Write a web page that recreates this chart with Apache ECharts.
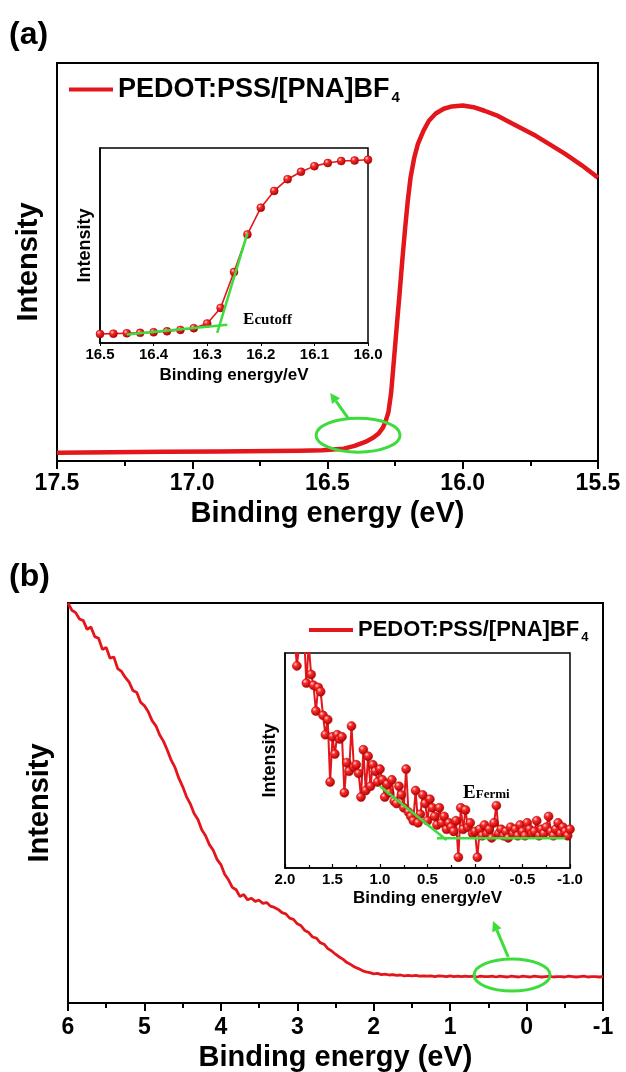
<!DOCTYPE html>
<html>
<head>
<meta charset="utf-8">
<script src="https://cdn.jsdelivr.net/npm/echarts@6/dist/echarts.min.js"></script>
<style>html,body{margin:0;padding:0;background:#fff}#c{width:626px;height:1072px}</style>
</head>
<body>
<div id="c"></div>
<script>
// ---------------- DATA ----------------
const seriesName = 'PEDOT:PSS/[PNA]BF4';

// Panel (a) main spectrum (secondary-electron cutoff)
const energyA = [17.5, 17.3, 17.1, 16.9, 16.7, 16.6, 16.52, 16.48, 16.44, 16.4, 16.36, 16.33, 16.31, 16.295, 16.285, 16.275, 16.265, 16.255, 16.245, 16.234, 16.224, 16.213, 16.203, 16.193, 16.18, 16.166, 16.145, 16.125, 16.1, 16.07, 16.04, 16.0, 15.96, 15.92, 15.87, 15.826, 15.78, 15.73, 15.68, 15.62, 15.56, 15.5];
const intensityA = [2.1, 2.2, 2.3, 2.4, 2.5, 2.6, 2.7, 2.9, 3.1, 3.8, 4.8, 5.9, 7.0, 8.4, 10.0, 12.2, 17.0, 24.9, 33.0, 41.7, 50.0, 58.5, 65.5, 71.2, 76.0, 79.6, 83.0, 85.5, 87.3, 88.5, 89.1, 89.3, 88.9, 88.0, 86.7, 85.1, 83.5, 81.7, 79.6, 77.1, 74.3, 71.2];

// Panel (a) inset
const energyInsetA = [16.5, 16.475, 16.45, 16.425, 16.4, 16.375, 16.35, 16.325, 16.3, 16.275, 16.25, 16.225, 16.2, 16.175, 16.15, 16.125, 16.1, 16.075, 16.05, 16.025, 16.0];
const intensityInsetA = [4.6, 4.8, 5.0, 5.2, 5.5, 6.0, 6.7, 7.6, 10.0, 18.0, 36.4, 55.7, 69.4, 78.0, 84.0, 87.8, 90.7, 92.3, 93.3, 93.6, 94.0];
const tangentBaseA_E = [16.45, 16.2625];
const tangentBaseA_I = [4.3, 9.3];
const tangentEdgeA_E = [16.2813, 16.225];
const tangentEdgeA_I = [5.2, 56.2];

// Panel (b) main spectrum (valence band)
const energyB = [6.00,5.95,5.90,5.85,5.80,5.75,5.70,5.65,5.60,5.55,5.50,5.45,5.40,5.35,5.30,5.25,5.20,5.15,5.10,5.05,5.00,4.95,4.90,4.85,4.80,4.75,4.70,4.65,4.60,4.55,4.50,4.45,4.40,4.35,4.30,4.25,4.20,4.15,4.10,4.05,4.00,3.95,3.90,3.85,3.80,3.75,3.70,3.65,3.60,3.55,3.50,3.45,3.40,3.35,3.30,3.25,3.20,3.15,3.10,3.05,3.00,2.95,2.90,2.85,2.80,2.75,2.70,2.65,2.60,2.55,2.50,2.45,2.40,2.35,2.30,2.25,2.20,2.15,2.10,2.05,2.00,1.95,1.90,1.85,1.80,1.75,1.70,1.65,1.60,1.55,1.50,1.45,1.40,1.35,1.30,1.25,1.20,1.15,1.10,1.05,1.00,0.95,0.90,0.85,0.80,0.75,0.70,0.65,0.60,0.55,0.50,0.45,0.40,0.35,0.30,0.25,0.20,0.15,0.10,0.05,0.00,-0.05,-0.10,-0.15,-0.20,-0.25,-0.30,-0.35,-0.40,-0.45,-0.50,-0.55,-0.60,-0.65,-0.70,-0.75,-0.80,-0.85,-0.90,-0.95,-1.00];
const intensityB = [100.0,98.2,97.6,96.0,95.6,93.4,94.0,91.6,91.2,88.4,88.9,86.2,86.5,83.6,82.9,81.4,80.2,78.1,77.6,75.2,74.3,72.8,70.6,69.3,67.0,65.4,63.2,60.7,58.9,56.2,54.1,51.6,49.8,47.4,45.9,43.3,41.8,39.6,38.2,35.9,34.6,32.2,30.8,28.9,28.3,26.6,27.1,25.8,26.2,25.4,25.7,24.9,25.1,24.2,23.9,23.4,22.6,22.3,21.2,20.9,19.8,19.3,18.1,17.6,16.5,16.2,15.1,14.7,13.6,13.0,12.2,11.5,10.9,10.1,9.6,9.0,8.6,8.1,7.8,7.6,7.3,7.4,7.1,7.2,7.0,7.1,6.9,7.0,6.8,6.9,6.8,6.9,6.7,6.8,6.7,6.8,6.6,6.8,6.7,6.6,6.8,6.6,6.7,6.6,6.7,6.6,6.7,6.5,6.7,6.6,6.6,6.7,6.5,6.7,6.6,6.5,6.7,6.6,6.5,6.7,6.6,6.5,6.7,6.6,6.5,6.6,6.7,6.5,6.6,6.6,6.5,6.7,6.6,6.5,6.6,6.7,6.5,6.6,6.6,6.5,6.6];

// Panel (b) inset
const energyInsetB = [1.900,1.875,1.850,1.825,1.800,1.775,1.750,1.725,1.700,1.675,1.650,1.625,1.600,1.575,1.550,1.525,1.500,1.475,1.450,1.425,1.400,1.375,1.350,1.325,1.300,1.275,1.250,1.225,1.200,1.175,1.150,1.125,1.100,1.075,1.050,1.025,1.000,0.975,0.950,0.925,0.900,0.875,0.850,0.825,0.800,0.775,0.750,0.725,0.700,0.675,0.650,0.625,0.600,0.575,0.550,0.525,0.500,0.475,0.450,0.425,0.400,0.375,0.350,0.325,0.300,0.275,0.250,0.225,0.200,0.175,0.150,0.125,0.100,0.075,0.050,0.025,0.000,-0.025,-0.050,-0.075,-0.100,-0.125,-0.150,-0.175,-0.200,-0.225,-0.250,-0.275,-0.300,-0.325,-0.350,-0.375,-0.400,-0.425,-0.450,-0.475,-0.500,-0.525,-0.550,-0.575,-0.600,-0.625,-0.650,-0.675,-0.700,-0.725,-0.750,-0.775,-0.800,-0.825,-0.850,-0.875,-0.900,-0.925,-0.950,-0.975,-1.000];
const intensityInsetB = [108,94,104,112,109,86,104,90,85,73,84,82,71,62,69,40,61,53,62,60,61,35,49,45,66,47,48,44,33,55,36,52,38,48,45,40,46,41,33,39,35,41,31,30,38,34,28,46,26,24,22,36,21,25,34,30,22,32,28,24,20,28,21,24,18,21,19,17,22,5,28,18,27,19,21,16,17,5,18,15,20,16,18,14,21,29,16,18,15,17,14,19,16,18,15,20,17,15,21,18,16,17,22,15,18,16,19,24,17,15,18,21,16,19,17,15,18];
const tangentSlopeB_E = [1.0, 0.3];
const tangentSlopeB_I = [38, 13];
const tangentFlatB_E = [0.4, -0.95];
const tangentFlatB_I = [13.8, 13.8];

// Axis tick settings
const ticksA = { min: 15.5, max: 17.5, interval: 0.5 };
const ticksInsetA = { min: 16.0, max: 16.5, interval: 0.1 };
const ticksB = { min: -1, max: 6, interval: 1 };
const ticksInsetB = { min: -1.0, max: 2.0, interval: 0.5 };

// ---------------- STYLE ----------------
const SANS = '"Liberation Sans", Arial, sans-serif';
const SERIF = '"Liberation Serif", "Times New Roman", serif';
const RED = '#e3161b';
const GREEN = '#3ddc3d';
const zip = (xs, ys) => xs.map((x, i) => [x, ys[i]]);

const ball = () => new echarts.graphic.RadialGradient(0.35, 0.32, 0.75, [
  { offset: 0, color: '#ffd6d6' },
  { offset: 0.3, color: '#ff2a2a' },
  { offset: 1, color: '#9a0000' }
]);

function xAxisCfg(grid, t, opt) {
  return Object.assign({
    gridIndex: grid, type: 'value', min: t.min, max: t.max, interval: t.interval, inverse: true,
    axisLine: { show: true, onZero: false, lineStyle: { color: '#000', width: 2 } },
    axisTick: { show: true, inside: false, length: 8, lineStyle: { color: '#000', width: 2 } },
    splitLine: { show: false },
    axisLabel: { color: '#000', fontFamily: SANS, fontWeight: 'bold', fontSize: 23, margin: 11 },
    nameLocation: 'middle',
    nameTextStyle: { color: '#000', fontFamily: SANS, fontWeight: 'bold', fontSize: 29 }
  }, opt);
}
function yAxisCfg(grid, opt) {
  return Object.assign({
    gridIndex: grid, type: 'value', min: 0, max: 100,
    axisLine: { show: true, onZero: false, lineStyle: { color: '#000', width: 2 } },
    axisTick: { show: false }, axisLabel: { show: false }, splitLine: { show: false },
    name: 'Intensity', nameLocation: 'middle',
    nameTextStyle: { color: '#000', fontFamily: SANS, fontWeight: 'bold', fontSize: 29 }
  }, opt);
}

function legendCfg(left, top, size, subSize, subPad) {
  return {
    left: left, top: top,
    data: [seriesName], icon: 'rect', itemWidth: 44, itemHeight: 4, itemGap: 0, selectedMode: false,
    formatter: () => '{n|PEDOT:PSS/[PNA]BF}{s|4}',
    textStyle: {
      color: '#000',
      rich: {
        n: { fontFamily: SANS, fontWeight: 'bold', fontSize: size, color: '#000' },
        s: { fontFamily: SANS, fontWeight: 'bold', fontSize: subSize, color: '#000', padding: [subPad, 0, 0, 2] }
      }
    }
  };
}

const chart = echarts.init(document.getElementById('c'), null, { renderer: 'canvas' });
const option = {
  animation: false,
  backgroundColor: '#fff',
  grid: [
    { left: 57, top: 63, width: 541, height: 398, show: true, borderColor: '#000', borderWidth: 2, outerBoundsMode: 'none' },
    { left: 100, top: 148, width: 268, height: 195, show: true, borderColor: '#000', borderWidth: 1.5, outerBoundsMode: 'none' },
    { left: 68, top: 603, width: 535, height: 400, show: true, borderColor: '#000', borderWidth: 2, outerBoundsMode: 'none' },
    { left: 285, top: 653, width: 285, height: 215, show: true, borderColor: '#000', borderWidth: 1.5, outerBoundsMode: 'none' }
  ],
  legend: [
    legendCfg(64, 71, 27, 15, 17),
    legendCfg(304, 614, 22, 13, 14)
  ],
  xAxis: [
    xAxisCfg(0, ticksA, {
      name: 'Binding energy (eV)', nameGap: 38,
      minorTick: { show: true, splitNumber: 2, length: 5, lineStyle: { color: '#000', width: 2 } },
      axisLabel: { color: '#000', fontFamily: SANS, fontWeight: 'bold', fontSize: 23, margin: 11, formatter: v => v.toFixed(1) }
    }),
    xAxisCfg(1, ticksInsetA, {
      name: 'Binding energy/eV', nameGap: 24,
      axisLine: { show: true, onZero: false, lineStyle: { color: '#000', width: 1.5 } },
      axisTick: { show: true, length: 3, lineStyle: { color: '#000', width: 1 } },
      axisLabel: { color: '#000', fontFamily: SANS, fontWeight: 'bold', fontSize: 15, margin: 4, formatter: v => v.toFixed(1) },
      nameTextStyle: { color: '#000', fontFamily: SANS, fontWeight: 'bold', fontSize: 17 }
    }),
    xAxisCfg(2, ticksB, {
      name: 'Binding energy (eV)', nameGap: 40,
      minorTick: { show: true, splitNumber: 2, length: 5, lineStyle: { color: '#000', width: 2 } },
      axisLabel: { color: '#000', fontFamily: SANS, fontWeight: 'bold', fontSize: 23, margin: 13, formatter: v => String(v) }
    }),
    xAxisCfg(3, ticksInsetB, {
      name: 'Binding energy/eV', nameGap: 22,
      axisLine: { show: true, onZero: false, lineStyle: { color: '#000', width: 1.5 } },
      axisTick: { show: true, inside: true, length: 4, lineStyle: { color: '#000', width: 1.2 } },
      minorTick: { show: true, splitNumber: 2, length: 3, lineStyle: { color: '#000', width: 1.2 } },
      axisLabel: { color: '#000', fontFamily: SANS, fontWeight: 'bold', fontSize: 15, margin: 4, formatter: v => v.toFixed(1) },
      nameTextStyle: { color: '#000', fontFamily: SANS, fontWeight: 'bold', fontSize: 17 }
    })
  ],
  yAxis: [
    yAxisCfg(0, { nameGap: 14 }),
    yAxisCfg(1, { nameGap: 6, axisLine: { show: true, onZero: false, lineStyle: { color: '#000', width: 1.5 } },
      nameTextStyle: { color: '#000', fontFamily: SANS, fontWeight: 'bold', fontSize: 18 } }),
    yAxisCfg(2, { nameGap: 14 }),
    yAxisCfg(3, { nameGap: 6, axisLine: { show: true, onZero: false, lineStyle: { color: '#000', width: 1.5 } },
      nameTextStyle: { color: '#000', fontFamily: SANS, fontWeight: 'bold', fontSize: 18 } })
  ],
  series: [
    { name: seriesName, type: 'line', xAxisIndex: 0, yAxisIndex: 0, data: zip(energyA, intensityA),
      showSymbol: false, symbol: 'none', lineStyle: { color: RED, width: 4.5, join: 'round' }, itemStyle: { color: RED } },
    { name: 'insetA', type: 'line', xAxisIndex: 1, yAxisIndex: 1, data: zip(energyInsetA, intensityInsetA),
      symbol: 'circle', symbolSize: 8, showSymbol: true, lineStyle: { color: RED, width: 1.6 },
      itemStyle: { color: ball(), borderColor: '#b00000', borderWidth: 0.5 }, z: 3 },
    { name: 'tanA1', type: 'line', xAxisIndex: 1, yAxisIndex: 1, data: zip(tangentBaseA_E, tangentBaseA_I),
      symbol: 'none', lineStyle: { color: GREEN, width: 2.5 }, z: 4 },
    { name: 'tanA2', type: 'line', xAxisIndex: 1, yAxisIndex: 1, data: zip(tangentEdgeA_E, tangentEdgeA_I),
      symbol: 'none', lineStyle: { color: GREEN, width: 2.5 }, z: 4 },
    { name: seriesName, type: 'line', xAxisIndex: 2, yAxisIndex: 2, data: zip(energyB, intensityB),
      showSymbol: false, symbol: 'none', lineStyle: { color: RED, width: 2.8 }, itemStyle: { color: RED } },
    { name: 'insetB', type: 'line', xAxisIndex: 3, yAxisIndex: 3, data: zip(energyInsetB, intensityInsetB),
      symbol: 'circle', symbolSize: 9, showSymbol: true, lineStyle: { color: RED, width: 2 },
      itemStyle: { color: ball(), borderColor: '#b00000', borderWidth: 0.5 }, z: 3 },
    { name: 'tanB1', type: 'line', xAxisIndex: 3, yAxisIndex: 3, data: zip(tangentSlopeB_E, tangentSlopeB_I),
      symbol: 'none', lineStyle: { color: GREEN, width: 2.5 }, z: 4 },
    { name: 'tanB2', type: 'line', xAxisIndex: 3, yAxisIndex: 3, data: zip(tangentFlatB_E, tangentFlatB_I),
      symbol: 'none', lineStyle: { color: GREEN, width: 2.5 }, z: 4 }
  ]
};
chart.setOption(option);

// ---------------- ANNOTATIONS (placed through the axes) ----------------
const px = (g, x, y) => chart.convertToPixel({ gridIndex: g }, [x, y]);
function arrow(from, to, color) {
  const dx = to[0] - from[0], dy = to[1] - from[1];
  const L = Math.hypot(dx, dy), ux = dx / L, uy = dy / L;
  const hl = 10, hw = 5;
  const bx = to[0] - ux * hl, by = to[1] - uy * hl;
  return [
    { type: 'line', shape: { x1: from[0], y1: from[1], x2: bx, y2: by }, style: { stroke: color, lineWidth: 3 }, z: 10 },
    { type: 'polygon', shape: { points: [to, [bx - uy * hw, by + ux * hw], [bx + uy * hw, by - ux * hw]] }, style: { fill: color }, z: 10 }
  ];
}
const eA = px(0, 16.387, 6.5);
const eB = px(2, 0.19, 7.0);
const graphics = [
  { type: 'text', left: 9, top: 19, style: { text: '(a)', font: 'bold 32px ' + SANS, fill: '#000' } },
  { type: 'text', left: 9, top: 561, style: { text: '(b)', font: 'bold 32px ' + SANS, fill: '#000' } },
  { type: 'ellipse', shape: { cx: eA[0], cy: eA[1], rx: 42, ry: 17 }, style: { fill: 'none', stroke: GREEN, lineWidth: 3 }, z: 10 },
  ...arrow(px(0, 16.424, 10.8), px(0, 16.49, 17.1), GREEN),
  { type: 'ellipse', shape: { cx: eB[0], cy: eB[1], rx: 38, ry: 16 }, style: { fill: 'none', stroke: GREEN, lineWidth: 3 }, z: 10 },
  ...arrow(px(2, 0.24, 11.5), px(2, 0.44, 20.5), GREEN)
];
const pc = px(1, 16.233, 11.8);
graphics.push({ type: 'text', x: pc[0], y: pc[1], z: 10, style: {
  text: '{e|E}{t|cutoff}', verticalAlign: 'middle', align: 'left',
  rich: { e: { font: 'bold 17px ' + SERIF, fill: '#000' }, t: { font: 'bold 15px ' + SERIF, fill: '#000', padding: [1, 0, 0, 0] } } } });
const pf = px(3, 0.126, 34.9);
graphics.push({ type: 'text', x: pf[0], y: pf[1], z: 10, style: {
  text: '{e|E}{t|Fermi}', verticalAlign: 'middle', align: 'left',
  rich: { e: { font: 'bold 19px ' + SERIF, fill: '#000' }, t: { font: 'bold 13px ' + SERIF, fill: '#000', padding: [4, 0, 0, 0] } } } });
chart.setOption({ graphic: graphics });
</script>
</body>
</html>
